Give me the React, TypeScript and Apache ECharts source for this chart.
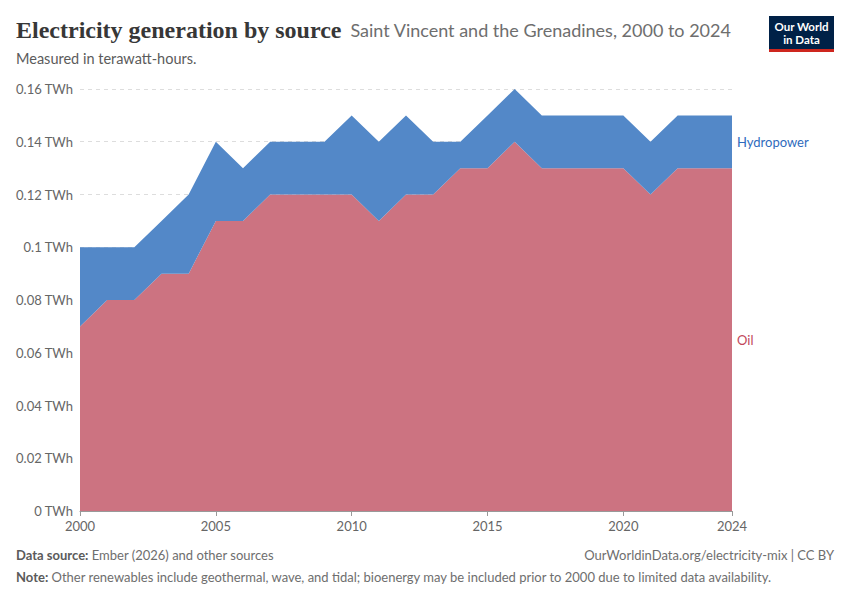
import { useEffect, useRef } from 'react';
import * as echarts from 'echarts';

const years = [
  '2000', '2001', '2002', '2003', '2004', '2005', '2006', '2007', '2008', '2009', '2010', '2011', '2012',
  '2013', '2014', '2015', '2016', '2017', '2018', '2019', '2020', '2021', '2022', '2023', '2024',
];
// TWh
const oil = [
  0.07, 0.08, 0.08, 0.09, 0.09, 0.11, 0.11, 0.12, 0.12, 0.12, 0.12, 0.11, 0.12,
  0.12, 0.13, 0.13, 0.14, 0.13, 0.13, 0.13, 0.13, 0.12, 0.13, 0.13, 0.13,
];
const hydropower = [
  0.03, 0.02, 0.02, 0.02, 0.03, 0.03, 0.02, 0.02, 0.02, 0.02, 0.03, 0.03, 0.03,
  0.02, 0.01, 0.02, 0.02, 0.02, 0.02, 0.02, 0.02, 0.02, 0.02, 0.02, 0.02,
];
const shownYears = ['2000', '2005', '2010', '2015', '2020', '2024'];

const OIL = '#cc7381';
const HYDRO = '#5388c8';
const FONT = 'Lato, "Noto Sans", sans-serif';

export default function App() {
  const el = useRef<HTMLDivElement>(null);

  useEffect(() => {
    if (!el.current) return;
    const chart = echarts.init(el.current, undefined, { renderer: 'svg' });
    const showYear = (_i: number, v: string) => shownYears.includes(v);

    chart.setOption({
      animation: false,
      textStyle: { fontFamily: FONT },
      grid: { left: 80, right: 118, top: 89, bottom: 89 },
      xAxis: {
        type: 'category',
        data: years,
        boundaryGap: false,
        axisLine: { lineStyle: { color: '#999' } },
        axisTick: { interval: showYear, length: 5, lineStyle: { color: '#999' } },
        axisLabel: { interval: showYear, color: '#666', fontSize: 13, margin: 8 },
      },
      yAxis: {
        type: 'value',
        min: 0,
        max: 0.16,
        interval: 0.02,
        axisLine: { show: false },
        axisTick: { show: false },
        splitLine: { lineStyle: { color: '#ddd', type: [4, 4] } },
        axisLabel: {
          color: '#666',
          fontSize: 13,
          margin: 7,
          formatter: (v: number) => `${parseFloat(v.toFixed(2))} TWh`,
        },
      },
      series: [
        {
          name: 'Oil',
          type: 'line',
          stack: 'total',
          data: oil,
          symbol: 'none',
          lineStyle: { width: 0 },
          areaStyle: { color: OIL, opacity: 1 },
        },
        {
          name: 'Hydropower',
          type: 'line',
          stack: 'total',
          data: hydropower,
          symbol: 'none',
          lineStyle: { width: 0 },
          areaStyle: { color: HYDRO, opacity: 1 },
        },
      ],
    });

    // end labels sit at the middle of each band in the last year
    const last = years.length - 1;
    const oilPos = chart.convertToPixel({ gridIndex: 0 }, [last, oil[last] / 2]);
    const hydroPos = chart.convertToPixel({ gridIndex: 0 }, [last, oil[last] + hydropower[last] / 2]);

    chart.setOption({
      graphic: [
        {
          type: 'text',
          left: 16,
          top: 18,
          style: {
            text: '{t|Electricity generation by source}{g| }{s|Saint Vincent and the Grenadines, 2000 to 2024}',
            rich: {
              t: { fontFamily: '"Liberation Serif", "DejaVu Serif", serif', fontWeight: 'bold', fontSize: 24, fill: '#373737' },
              g: { fontSize: 18, width: 9 },
              s: { fontFamily: FONT, fontSize: 18, fill: '#6e6e6e' },
            },
          },
        },
        {
          type: 'text',
          left: 16,
          top: 51,
          style: { text: 'Measured in terawatt-hours.', fontFamily: FONT, fontSize: 14.5, fill: '#5b5b5b' },
        },
        {
          type: 'group',
          right: 16,
          top: 16,
          children: [
            { type: 'rect', shape: { x: 0, y: 0, width: 65, height: 36 }, style: { fill: '#002147' } },
            { type: 'rect', shape: { x: 0, y: 33, width: 65, height: 3 }, style: { fill: '#ce261e' } },
            {
              type: 'text',
              x: 32.5,
              y: 4,
              style: {
                text: 'Our World',
                fontFamily: FONT,
                fontSize: 11.5,
                fontWeight: 'bold',
                fill: '#fff',
                align: 'center',
              },
            },
            {
              type: 'text',
              x: 32.5,
              y: 17,
              style: {
                text: 'in Data',
                fontFamily: FONT,
                fontSize: 11.5,
                fontWeight: 'bold',
                fill: '#fff',
                align: 'center',
              },
            },
          ],
        },
        {
          type: 'text',
          x: oilPos[0] + 5,
          y: oilPos[1],
          style: { text: 'Oil', fontFamily: FONT, fontSize: 13, fill: '#c2485a', verticalAlign: 'middle' },
        },
        {
          type: 'text',
          x: hydroPos[0] + 5,
          y: hydroPos[1],
          style: { text: 'Hydropower', fontFamily: FONT, fontSize: 13, fill: '#2f6bbd', verticalAlign: 'middle' },
        },
        {
          type: 'text',
          left: 16,
          top: 548,
          style: {
            text: '{b|Data source:} Ember (2026) and other sources',
            fontFamily: FONT,
            fontSize: 13,
            fill: '#6e6e6e',
            rich: { b: { fontFamily: FONT, fontSize: 13, fontWeight: 'bold', fill: '#5b5b5b' } },
          },
        },
        {
          type: 'text',
          right: 16,
          top: 548,
          style: { text: 'OurWorldinData.org/electricity-mix | CC BY', fontFamily: FONT, fontSize: 13, fill: '#6e6e6e' },
        },
        {
          type: 'text',
          left: 16,
          top: 570,
          style: {
            text: '{b|Note:} Other renewables include geothermal, wave, and tidal; bioenergy may be included prior to 2000 due to limited data availability.',
            fontFamily: FONT,
            fontSize: 13,
            fill: '#6e6e6e',
            rich: { b: { fontFamily: FONT, fontSize: 13, fontWeight: 'bold', fill: '#5b5b5b' } },
          },
        },
      ],
    });

    return () => chart.dispose();
  }, []);

  return (
    <div
      ref={el}
      style={{ position: 'fixed', left: 0, top: 0, width: 850, height: 600, background: '#fff' }}
    />
  );
}
